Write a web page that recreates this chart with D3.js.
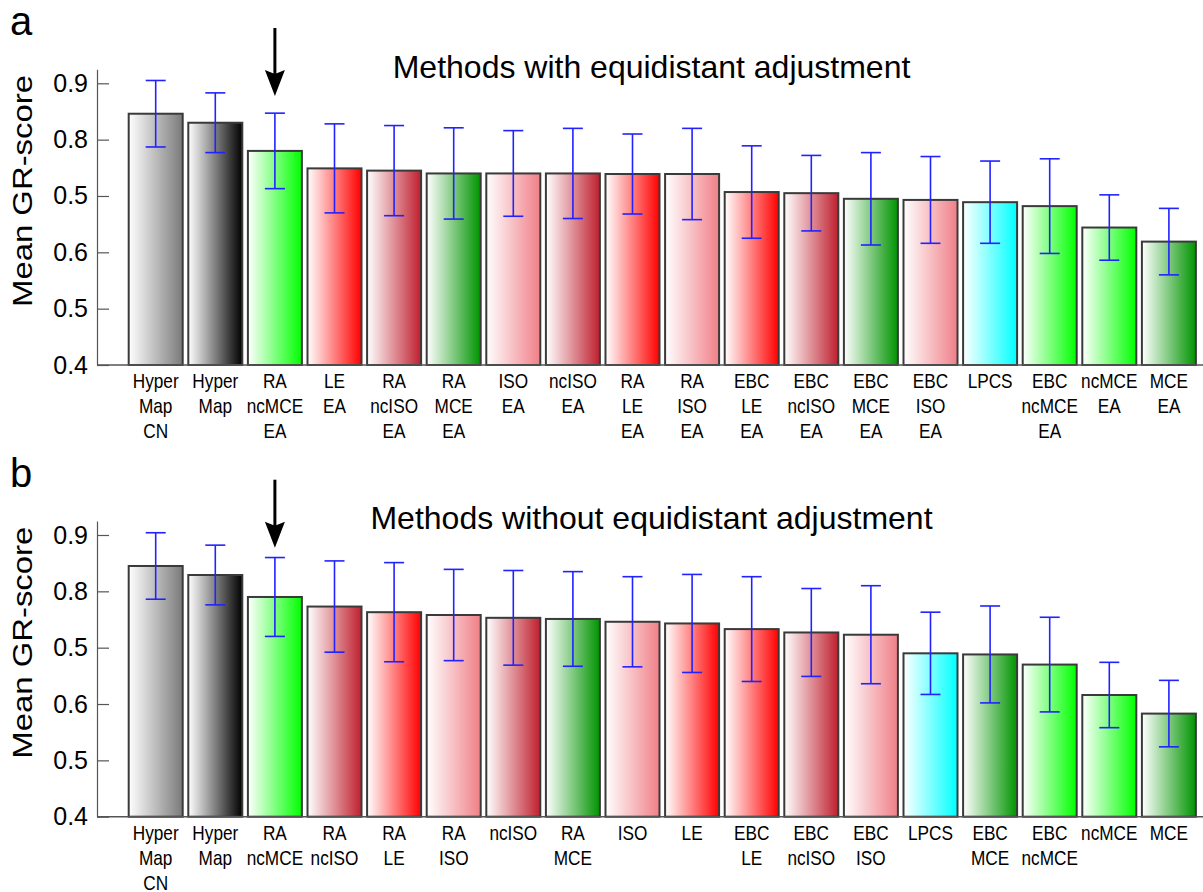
<!DOCTYPE html>
<html>
<head>
<meta charset="utf-8">
<script src="https://cdn.jsdelivr.net/npm/d3@7"></script>
<style>
  body { margin: 0; background: #fff; }
  svg { display: block; }
</style>
</head>
<body>
<svg id="chart" width="1203" height="892"></svg>
<script>
// ---- data: panel a (methods with equidistant adjustment) ----
const categoriesA = ["Hyper\nMap\nCN", "Hyper\nMap", "RA\nncMCE\nEA", "LE\nEA", "RA\nncISO\nEA", "RA\nMCE\nEA",
  "ISO\nEA", "ncISO\nEA", "RA\nLE\nEA", "RA\nISO\nEA", "EBC\nLE\nEA", "EBC\nncISO\nEA", "EBC\nMCE\nEA",
  "EBC\nISO\nEA", "LPCS", "EBC\nncMCE\nEA", "ncMCE\nEA", "MCE\nEA"];
const meansA = [0.846, 0.830, 0.780, 0.749, 0.745, 0.740, 0.740, 0.740, 0.739, 0.739, 0.707, 0.705, 0.695, 0.693, 0.689, 0.682, 0.644, 0.619];
const sdA    = [0.059, 0.053, 0.067, 0.079, 0.080, 0.081, 0.076, 0.080, 0.071, 0.081, 0.082, 0.067, 0.082, 0.077, 0.073, 0.084, 0.058, 0.059];
const colorKeysA = ["HyperMapCN", "HyperMap", "ncMCE", "LE", "ncISO", "MCE", "ISO", "ncISO", "LE", "ISO",
  "LE", "ncISO", "MCE", "ISO", "LPCS", "ncMCE", "ncMCE", "MCE"];

// ---- data: panel b (methods without equidistant adjustment) ----
const categoriesB = ["Hyper\nMap\nCN", "Hyper\nMap", "RA\nncMCE", "RA\nncISO", "RA\nLE", "RA\nISO", "ncISO",
  "RA\nMCE", "ISO", "LE", "EBC\nLE", "EBC\nncISO", "EBC\nISO", "LPCS", "EBC\nMCE", "EBC\nncMCE", "ncMCE", "MCE"];
const meansB = [0.845, 0.829, 0.790, 0.773, 0.763, 0.758, 0.753, 0.751, 0.746, 0.743, 0.733, 0.727, 0.723, 0.690, 0.688, 0.670, 0.616, 0.583];
const sdB    = [0.059, 0.053, 0.070, 0.081, 0.088, 0.081, 0.084, 0.084, 0.080, 0.087, 0.093, 0.078, 0.087, 0.073, 0.086, 0.084, 0.058, 0.059];
const colorKeysB = ["HyperMapCN", "HyperMap", "ncMCE", "ncISO", "LE", "ISO", "ncISO", "MCE", "ISO", "LE",
  "LE", "ncISO", "ISO", "LPCS", "MCE", "ncMCE", "ncMCE", "MCE"];

// ---- axis ticks ----
const yTickValues = [0.4, 0.5, 0.6, 0.7, 0.8, 0.9];
const yTickLabels = ["0.4", "0.5", "0.6", "0.5", "0.8", "0.9"];

// end colour of each method's white-to-colour gradient
const methodColors = {
  HyperMapCN: "#7a7a7a",
  HyperMap: "#000000",
  ncMCE: "#00ff00",
  MCE: "#009400",
  LE: "#ff0000",
  ISO: "#f07f87",
  ncISO: "#bf1f2e",
  LPCS: "#00ffff"
};

const svg = d3.select("#chart");
const FONT = "'Liberation Sans', Arial, Helvetica, sans-serif";

// gradient definitions
const defs = svg.append("defs");
Object.entries(methodColors).forEach(([key, col]) => {
  const gr = defs.append("linearGradient")
    .attr("id", "grad-" + key)
    .attr("x1", "0").attr("y1", "0").attr("x2", "1").attr("y2", "0");
  gr.append("stop").attr("offset", "0%").attr("stop-color", "#ffffff");
  gr.append("stop").attr("offset", "100%").attr("stop-color", col);
});

const AXIS_X = 97;
const PX_PER_UNIT = 563.4;

function drawPanel(cfg) {
  const g = svg.append("g");
  const y = d3.scaleLinear()
    .domain([0.4, 0.925])
    .range([cfg.base, cfg.base - 0.525 * PX_PER_UNIT]);
  const x = d3.scaleBand()
    .domain(cfg.categories)
    .range([125.9, 1198.7])
    .paddingInner(0.094)
    .paddingOuter(0.047);
  const bw = x.bandwidth();

  const rows = cfg.categories.map((c, i) => ({
    cat: c, mean: cfg.means[i], sd: cfg.sds[i], key: cfg.colorKeys[i]
  }));

  // bars
  g.selectAll("rect.bar").data(rows).join("rect")
    .attr("class", "bar")
    .attr("x", d => x(d.cat))
    .attr("y", d => y(d.mean))
    .attr("width", bw)
    .attr("height", d => y(0.4) - y(d.mean))
    .attr("fill", d => `url(#grad-${d.key})`)
    .attr("stroke", "#3a3a3a")
    .attr("stroke-width", 2);

  // baseline
  g.append("line")
    .attr("x1", AXIS_X).attr("x2", 1203)
    .attr("y1", y(0.4)).attr("y2", y(0.4))
    .attr("stroke", "#555").attr("stroke-width", 1.5);

  // error bars
  const eb = g.selectAll("g.err").data(rows).join("g").attr("class", "err")
    .attr("stroke", "#2222ff").attr("stroke-width", 1.6);
  eb.append("line")
    .attr("x1", d => x(d.cat) + bw / 2).attr("x2", d => x(d.cat) + bw / 2)
    .attr("y1", d => y(d.mean + d.sd)).attr("y2", d => y(d.mean - d.sd));
  eb.append("line")
    .attr("x1", d => x(d.cat) + bw / 2 - 10).attr("x2", d => x(d.cat) + bw / 2 + 10)
    .attr("y1", d => y(d.mean + d.sd)).attr("y2", d => y(d.mean + d.sd));
  eb.append("line")
    .attr("x1", d => x(d.cat) + bw / 2 - 10).attr("x2", d => x(d.cat) + bw / 2 + 10)
    .attr("y1", d => y(d.mean - d.sd)).attr("y2", d => y(d.mean - d.sd));

  // y axis
  const axis = d3.axisLeft(y)
    .tickValues(yTickValues)
    .tickFormat((d, i) => yTickLabels[i])
    .tickSizeInner(-12)
    .tickSizeOuter(0)
    .tickPadding(9);
  const ag = g.append("g").attr("transform", `translate(${AXIS_X},0)`).call(axis);
  ag.select(".domain").attr("stroke", "#555").attr("stroke-width", 1.2);
  ag.selectAll(".tick line").attr("stroke", "#555").attr("stroke-width", 1.2);
  ag.selectAll(".tick text")
    .attr("fill", "#000")
    .style("font-family", FONT)
    .style("font-size", "25px");

  // y axis title
  g.append("text")
    .attr("transform", `translate(32,${cfg.base - 174}) rotate(-90)`)
    .attr("text-anchor", "middle")
    .attr("textLength", 232)
    .attr("lengthAdjust", "spacingAndGlyphs")
    .style("font-family", FONT)
    .style("font-size", "28px")
    .attr("fill", "#000")
    .text("Mean GR-score");

  // category labels (multi-line, horizontally condensed)
  const lab = g.selectAll("text.cat").data(rows).join("text")
    .attr("class", "cat")
    .attr("text-anchor", "middle")
    .attr("transform", d => `translate(${x(d.cat) + bw / 2},0) scale(0.82,1)`)
    .style("font-family", FONT)
    .style("font-size", "21px")
    .attr("fill", "#000");
  lab.each(function (d) {
    const t = d3.select(this);
    d.cat.split("\n").forEach((line, k) => {
      t.append("tspan")
        .attr("x", 0)
        .attr("y", y(0.4) + 23 + k * 25)
        .text(line);
    });
  });

  // panel title
  g.append("text")
    .attr("x", 651.5)
    .attr("y", cfg.base - 287.5)
    .attr("text-anchor", "middle")
    .style("font-family", FONT)
    .style("font-size", "32px")
    .attr("fill", "#000")
    .text(cfg.title);

  // panel letter
  g.append("text")
    .attr("x", 10)
    .attr("y", cfg.base - 330)
    .style("font-family", FONT)
    .style("font-size", "40px")
    .attr("fill", "#000")
    .text(cfg.letter);

  // arrow marking the highlighted method
  const ax = x(cfg.categories[cfg.arrowIndex]) + bw / 2;
  const tip = cfg.base - 269;
  const top = cfg.base - 337;
  g.append("line")
    .attr("x1", ax).attr("x2", ax)
    .attr("y1", top).attr("y2", tip - 20)
    .attr("stroke", "#000").attr("stroke-width", 3);
  g.append("polygon")
    .attr("points", [[ax - 10, tip - 26], [ax, tip - 22], [ax + 10, tip - 26], [ax, tip]].map(p => p.join(",")).join(" "))
    .attr("fill", "#000");
}

drawPanel({
  categories: categoriesA, means: meansA, sds: sdA, colorKeys: colorKeysA,
  base: 365, title: "Methods with equidistant adjustment", letter: "a", arrowIndex: 2
});
drawPanel({
  categories: categoriesB, means: meansB, sds: sdB, colorKeys: colorKeysB,
  base: 816.7, title: "Methods without equidistant adjustment", letter: "b", arrowIndex: 2
});
</script>
</body>
</html>
